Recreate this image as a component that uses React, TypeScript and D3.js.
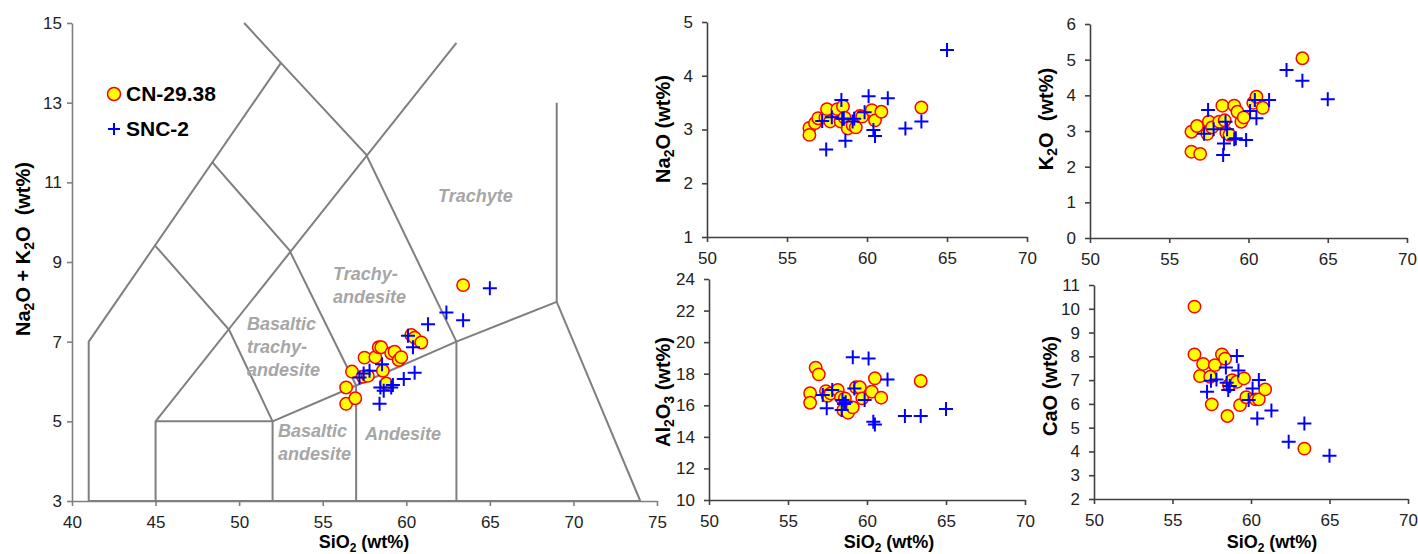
import React, { useEffect, useRef } from "react";
import * as d3 from "d3";

// CN-29.38 samples (circles)
const cnSiO2 = [56.4, 56.4, 56.75, 56.95, 57.4, 57.5, 57.7, 58.15, 58.35, 58.5, 58.6, 58.8, 59.1, 59.3, 59.55, 59.7, 60.3, 60.5, 60.9, 63.4];
const cnAlkali = [5.85, 5.44, 6.25, 5.58, 6.12, 6.6, 6.14, 6.61, 6.86, 6.86, 6.27, 5.95, 6.71, 6.75, 6.54, 6.61, 7.17, 7.1, 6.98, 8.42];
const cnNa2O = [3.03, 2.9, 3.12, 3.21, 3.22, 3.38, 3.15, 3.38, 3.15, 3.43, 3.22, 3.02, 3.08, 3.04, 3.25, 3.24, 3.36, 3.17, 3.33, 3.41];
const cnK2O = [2.98, 2.42, 3.14, 2.36, 2.92, 3.26, 3.1, 3.26, 3.71, 3.3, 2.95, 2.89, 3.71, 3.54, 3.26, 3.38, 3.79, 3.96, 3.65, 5.04];
const cnAl2O3 = [16.76, 16.16, 18.38, 17.96, 16.9, 16.6, 16.75, 16.97, 16.5, 15.7, 16.44, 15.53, 15.87, 17.14, 17.14, 16.44, 16.86, 17.71, 16.48, 17.54];
const cnCaO = [10.09, 8.08, 7.17, 7.68, 7.14, 5.98, 7.63, 8.08, 7.9, 5.49, 6.79, 7.0, 6.93, 5.95, 7.07, 6.28, 6.19, 6.19, 6.61, 4.12];

// SNC-2 samples (crosses)
const sncSiO2 = [57.2, 57.45, 57.8, 58.4, 58.45, 58.55, 58.65, 59.1, 59.2, 59.85, 60.1, 60.4, 60.5, 61.3, 62.4, 63.4, 65.0];
const sncAlkali = [6.1, 6.2, 6.27, 5.44, 5.85, 6.43, 5.77, 5.85, 5.91, 6.06, 7.15, 6.86, 6.22, 7.44, 7.73, 7.54, 8.34];
const sncNa2O = [3.16, 2.63, 3.23, 3.55, 3.2, 3.2, 2.79, 3.15, 3.2, 3.32, 3.62, 2.99, 2.88, 3.58, 3.02, 3.15, 4.48];
const sncK2O = [2.92, 3.59, 3.05, 2.33, 2.65, 3.26, 3.05, 2.77, 2.8, 2.75, 3.56, 3.87, 3.36, 3.87, 4.71, 4.41, 3.89];
const sncAl2O3 = [16.65, 15.81, 16.97, 15.7, 16.33, 16.08, 16.2, 19.04, 17.07, 16.33, 18.97, 14.96, 14.79, 17.64, 15.32, 15.32, 15.76];
const sncCaO = [6.51, 6.97, 7.03, 7.53, 6.89, 6.58, 6.75, 8.01, 7.4, 6.16, 6.65, 5.39, 7.0, 5.72, 4.41, 5.18, 3.82];

// TAS field boundaries (SiO2, Na2O+K2O)
const tasLines = [
  [[41, 3], [41, 7], [52.5, 14]],
  [[45, 3], [45, 5], [63, 14.5]],
  [[45, 5], [52, 5]],
  [[45, 9.4], [49.4, 7.3], [52, 5]],
  [[48.4, 11.5], [53, 9.3], [57, 5.9]],
  [[50.3, 15], [52.5, 14], [57.6, 11.7], [63, 7]],
  [[52, 3], [52, 5], [57, 5.9], [63, 7], [69, 8]],
  [[57, 3], [57, 5.9]],
  [[63, 3], [63, 7]],
  [[69, 13], [69, 8], [74, 3]],
  [[41, 3], [74, 3]],
];

const tasFields = [
  { lines: ["Trachyte"], x: 438, y: 202 },
  { lines: ["Trachy-", "andesite"], x: 333, y: 280 },
  { lines: ["Basaltic", "trachy-", "andesite"], x: 247, y: 330 },
  { lines: ["Basaltic", "andesite"], x: 278, y: 437 },
  { lines: ["Andesite"], x: 365, y: 440 },
];

const FONT = "'Liberation Sans', Arial, sans-serif";

function addTitle(g, parts, x, y, rotate, size) {
  const sub = Math.round(size * 0.68);
  const t = g
    .append("text")
    .attr("transform", `translate(${x},${y})` + (rotate ? " rotate(-90)" : ""))
    .attr("text-anchor", "middle")
    .attr("font-family", FONT)
    .attr("font-weight", "bold")
    .attr("font-size", size)
    .attr("fill", "#000")
    .style("white-space", "pre");
  parts.forEach((p, i) => {
    const isSub = i % 2 === 1;
    t.append("tspan")
      .attr("font-size", isSub ? sub : size)
      .attr("dy", isSub ? 4 : i > 0 ? -4 : 0)
      .text(p);
  });
}

function drawPanel(svg, o) {
  const x = d3.scaleLinear().domain(o.xDomain).range(o.xRange);
  const y = d3.scaleLinear().domain(o.yDomain).range(o.yRange);
  const g = svg.append("g");

  const ax = g
    .append("g")
    .attr("transform", `translate(0,${o.yRange[0]})`)
    .call(d3.axisBottom(x).tickValues(o.xTicks).tickFormat(d3.format("d")).tickSize(5).tickSizeOuter(0).tickPadding(10));
  const ay = g
    .append("g")
    .attr("transform", `translate(${o.xRange[0]},0)`)
    .call(d3.axisLeft(y).tickValues(o.yTicks).tickFormat(d3.format("d")).tickSize(5).tickSizeOuter(0).tickPadding(o.yPad));
  [ax, ay].forEach((a) => {
    a.selectAll("path,line").attr("stroke", o.axisColor).attr("stroke-width", 1.6);
    a.selectAll("text").attr("font-family", FONT).attr("font-size", 17).attr("fill", "#222");
  });

  if (o.extra) o.extra(g, x, y);

  g.selectAll(".cn")
    .data(o.cnX.map((v, i) => [v, o.cnY[i]]))
    .join("circle")
    .attr("class", "cn")
    .attr("cx", (d) => x(d[0]))
    .attr("cy", (d) => y(d[1]))
    .attr("r", 6.2)
    .attr("fill", "#ffff00")
    .attr("stroke", "#ff0000")
    .attr("stroke-width", 1.5);

  g.selectAll(".snc")
    .data(o.sncX.map((v, i) => [v, o.sncY[i]]))
    .join("path")
    .attr("class", "snc")
    .attr("d", "M-7,0H7M0,-7V7")
    .attr("transform", (d) => `translate(${x(d[0])},${y(d[1])})`)
    .attr("stroke", "#0000ff")
    .attr("stroke-width", 2)
    .attr("fill", "none");

  addTitle(g, o.yTitle, o.yTitleX, o.yTitleY, true, 20);
  if (o.xTitle) addTitle(g, o.xTitle, o.xTitleX, 548, false, 18);
}

export default function App() {
  const ref = useRef(null);

  useEffect(() => {
    const svg = d3.select(ref.current);
    svg.selectAll("*").remove();

    // TAS diagram
    drawPanel(svg, {
      xDomain: [40, 75], xRange: [72, 657], yDomain: [3, 15], yRange: [501, 23],
      xTicks: d3.range(40, 76, 5), yTicks: d3.range(3, 16, 2), yPad: 5,
      axisColor: "#7f7f7f",
      cnX: cnSiO2, cnY: cnAlkali, sncX: sncSiO2, sncY: sncAlkali,
      yTitle: ["Na", "2", "O + K", "2", "O  (wt%)"], yTitleX: 30, yTitleY: 249,
      xTitle: ["SiO", "2", " (wt%)"], xTitleX: 364,
      extra: (g, x, y) => {
        const line = d3.line().x((d) => x(d[0])).y((d) => y(d[1]));
        g.selectAll(".tas")
          .data(tasLines)
          .join("path")
          .attr("class", "tas")
          .attr("d", line)
          .attr("fill", "none")
          .attr("stroke", "#7f7f7f")
          .attr("stroke-width", 2);
        tasFields.forEach((f) => {
          const t = g.append("text")
            .attr("font-family", FONT)
            .attr("font-weight", "bold")
            .attr("font-style", "italic")
            .attr("font-size", 18)
            .attr("fill", "#a6a6a6");
          f.lines.forEach((s, i) => {
            t.append("tspan").attr("x", f.x).attr("y", f.y + i * 23).text(s);
          });
        });
      },
    });

    // legend
    const lg = svg.append("g");
    lg.append("circle").attr("cx", 114).attr("cy", 94).attr("r", 6.5)
      .attr("fill", "#ffff00").attr("stroke", "#ff0000").attr("stroke-width", 1.5);
    lg.append("path").attr("d", "M-6,0H6M0,-6V6").attr("transform", "translate(114,129)")
      .attr("stroke", "#0000ff").attr("stroke-width", 2);
    lg.selectAll("text")
      .data([["CN-29.38", 101], ["SNC-2", 136]])
      .join("text")
      .attr("x", 126)
      .attr("y", (d) => d[1])
      .attr("font-family", FONT)
      .attr("font-weight", "bold")
      .attr("font-size", 21)
      .text((d) => d[0]);

    drawPanel(svg, {
      xDomain: [50, 70], xRange: [707, 1027], yDomain: [1, 5], yRange: [237, 22],
      xTicks: d3.range(50, 71, 5), yTicks: d3.range(1, 6, 1), yPad: 9,
      axisColor: "#404040",
      cnX: cnSiO2, cnY: cnNa2O, sncX: sncSiO2, sncY: sncNa2O,
      yTitle: ["Na", "2", "O (wt%)"], yTitleX: 670, yTitleY: 129,
    });

    drawPanel(svg, {
      xDomain: [50, 70], xRange: [1090, 1407], yDomain: [0, 6], yRange: [238, 24],
      xTicks: d3.range(50, 71, 5), yTicks: d3.range(0, 7, 1), yPad: 9,
      axisColor: "#404040",
      cnX: cnSiO2, cnY: cnK2O, sncX: sncSiO2, sncY: sncK2O,
      yTitle: ["K", "2", "O  (wt%)"], yTitleX: 1053, yTitleY: 119,
    });

    drawPanel(svg, {
      xDomain: [50, 70], xRange: [709, 1025], yDomain: [10, 24], yRange: [500, 279],
      xTicks: d3.range(50, 71, 5), yTicks: d3.range(10, 25, 2), yPad: 9,
      axisColor: "#404040",
      cnX: cnSiO2, cnY: cnAl2O3, sncX: sncSiO2, sncY: sncAl2O3,
      yTitle: ["Al", "2", "O", "3", " (wt%)"], yTitleX: 670, yTitleY: 392,
      xTitle: ["SiO", "2", " (wt%)"], xTitleX: 889,
    });

    drawPanel(svg, {
      xDomain: [50, 70], xRange: [1094, 1408], yDomain: [2, 11], yRange: [499, 285],
      xTicks: d3.range(50, 71, 5), yTicks: d3.range(2, 12, 1), yPad: 9,
      axisColor: "#404040",
      cnX: cnSiO2, cnY: cnCaO, sncX: sncSiO2, sncY: sncCaO,
      yTitle: ["CaO (wt%)"], yTitleX: 1057, yTitleY: 386,
      xTitle: ["SiO", "2", " (wt%)"], xTitleX: 1272,
    });
  }, []);

  return (
    <svg
      ref={ref}
      width={1418}
      height={554}
      style={{ position: "absolute", left: 0, top: 0, background: "#fff" }}
    />
  );
}
